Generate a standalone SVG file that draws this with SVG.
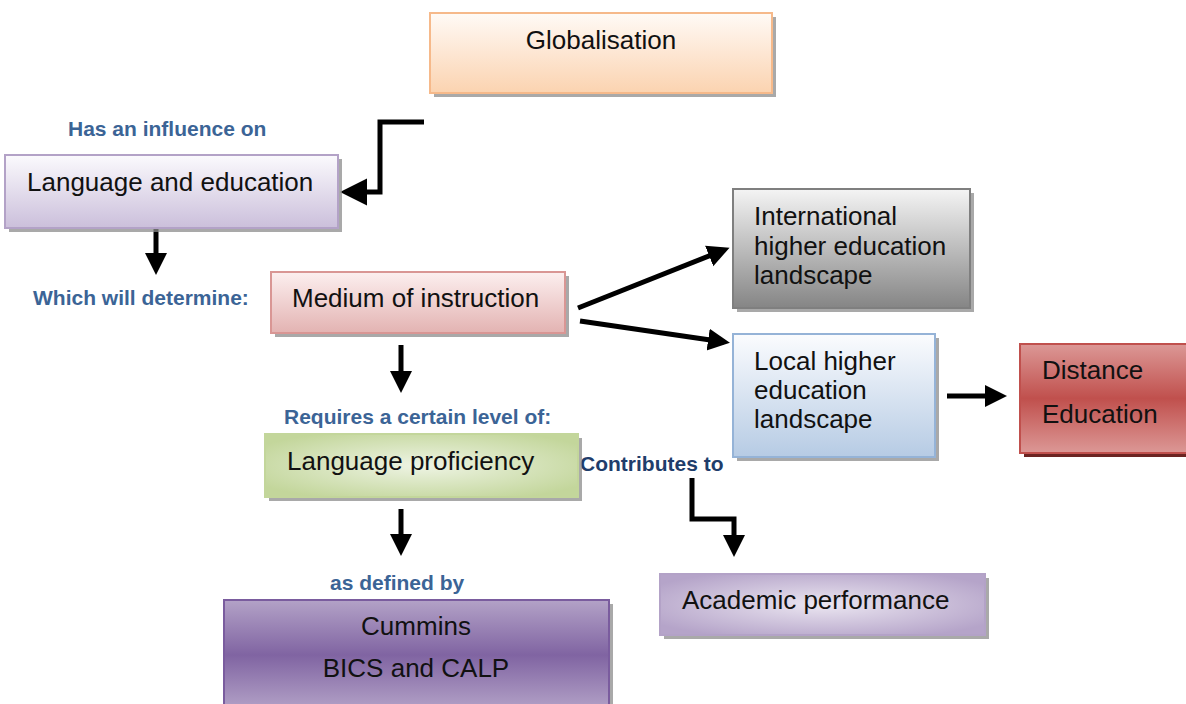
<svg xmlns="http://www.w3.org/2000/svg" width="1186" height="704" viewBox="0 0 1186 704">
<style>
.t{font-family:"Liberation Sans",Arial,sans-serif;font-size:26px;fill:#111}
.lb{font-family:"Liberation Sans",Arial,sans-serif;font-size:21px;font-weight:bold;fill:#3b6496}
.lbd{fill:#1f3d6b}
.sh{fill:#8c8c8c;opacity:.75}
.c{fill:none;stroke:#000;stroke-width:5}
</style>
<defs>
<linearGradient id="gGlob" x1="0" y1="0" x2="0" y2="1"><stop offset="0" stop-color="#fffaf6"/><stop offset="1" stop-color="#fbd3b0"/></linearGradient>
<linearGradient id="gLang" x1="0" y1="0" x2="0" y2="1"><stop offset="0" stop-color="#fbfafd"/><stop offset="1" stop-color="#cbbfdb"/></linearGradient>
<linearGradient id="gMed" x1="0" y1="0" x2="0" y2="1"><stop offset="0" stop-color="#fcefef"/><stop offset="1" stop-color="#e3b3b2"/></linearGradient>
<linearGradient id="gInt" x1="0" y1="0" x2="0" y2="1"><stop offset="0" stop-color="#f4f4f4"/><stop offset="1" stop-color="#858585"/></linearGradient>
<linearGradient id="gLoc" x1="0" y1="0" x2="0" y2="1"><stop offset="0" stop-color="#fbfcfe"/><stop offset="1" stop-color="#b6cbe4"/></linearGradient>
<linearGradient id="gDist" x1="0" y1="0" x2="0" y2="1"><stop offset="0" stop-color="#dc9896"/><stop offset="0.5" stop-color="#c0504d"/><stop offset="1" stop-color="#dc9896"/></linearGradient>
<radialGradient id="gProf" cx="0.5" cy="0.5" r="0.6"><stop offset="0" stop-color="#eef4e4"/><stop offset="1" stop-color="#c3d69b"/></radialGradient>
<linearGradient id="gCum" x1="0" y1="0" x2="0" y2="1"><stop offset="0" stop-color="#b3a2c7"/><stop offset="0.5" stop-color="#8064a2"/><stop offset="1" stop-color="#b3a2c7"/></linearGradient>
<radialGradient id="gAcad" cx="0.5" cy="0.5" r="0.6"><stop offset="0" stop-color="#ebe6f1"/><stop offset="1" stop-color="#b5a4c9"/></radialGradient>
<marker id="ah" markerUnits="userSpaceOnUse" markerWidth="24" markerHeight="24" refX="16" refY="11" orient="auto"><path d="M0,0 L22,11 L0,22 z" fill="#000"/></marker>
<marker id="ahL" markerUnits="userSpaceOnUse" markerWidth="30" markerHeight="30" refX="21" refY="13.5" orient="auto"><path d="M0,0 L27,13.5 L0,27 z" fill="#000"/></marker>
</defs>
<rect width="1186" height="704" fill="#fff"/>

<g id="connectors">
<path class="c" d="M424,122 H380 V192 H346" marker-end="url(#ahL)"/>
<path class="c" d="M156,228 V269" marker-end="url(#ah)"/>
<path class="c" d="M401,345 V387" marker-end="url(#ah)"/>
<path class="c" d="M578,308 L724,250" marker-end="url(#ah)"/>
<path class="c" d="M580,321 L724,342" marker-end="url(#ah)"/>
<path class="c" d="M947,396 H1001" marker-end="url(#ah)"/>
<path class="c" d="M401,509 V550" marker-end="url(#ah)"/>
<path class="c" d="M692,478 V519 H734 V551" marker-end="url(#ah)"/>
</g>

<g id="labels">
<text class="lb" x="68" y="136">Has an influence on</text>
<text class="lb" x="33" y="305">Which will determine:</text>
<text class="lb" x="284" y="424">Requires a certain level of:</text>
<text class="lb lbd" x="580" y="471">Contributes to</text>
<text class="lb" x="330" y="590">as defined by</text>
</g>

<g id="globalisation">
<rect class="sh" x="434" y="17" width="342" height="80"/>
<rect x="430" y="13" width="342" height="80" fill="url(#gGlob)" stroke="#f6b98a" stroke-width="2"/>
<text class="t" x="601" y="49" text-anchor="middle">Globalisation</text>
</g>

<g id="language-education">
<rect class="sh" x="9" y="159" width="333" height="73"/>
<rect x="5" y="155" width="333" height="73" fill="url(#gLang)" stroke="#b3a2c7" stroke-width="2"/>
<text class="t" x="27" y="191">Language and education</text>
</g>

<g id="medium">
<rect class="sh" x="275" y="276" width="294" height="61"/>
<rect x="271" y="272" width="294" height="61" fill="url(#gMed)" stroke="#d99694" stroke-width="2"/>
<text class="t" x="292" y="307">Medium of instruction</text>
</g>

<g id="international">
<rect class="sh" x="737" y="193" width="237" height="119"/>
<rect x="733" y="189" width="237" height="119" fill="url(#gInt)" stroke="#7f7f7f" stroke-width="2"/>
<text class="t" x="754" y="225">International</text>
<text class="t" x="754" y="255">higher education</text>
<text class="t" x="754" y="284">landscape</text>
</g>

<g id="local">
<rect class="sh" x="737" y="338" width="202" height="123"/>
<rect x="733" y="334" width="202" height="123" fill="url(#gLoc)" stroke="#95b3d7" stroke-width="2"/>
<text class="t" x="754" y="370">Local higher</text>
<text class="t" x="754" y="399">education</text>
<text class="t" x="754" y="428">landscape</text>
</g>

<g id="distance">
<rect x="1024" y="348" width="180" height="109" fill="#6b2422"/>
<rect x="1020" y="344" width="180" height="109" fill="url(#gDist)" stroke="#c0504d" stroke-width="2"/>
<text class="t" x="1042" y="379">Distance</text>
<text class="t" x="1042" y="423">Education</text>
</g>

<g id="proficiency">
<rect class="sh" x="269" y="438" width="313" height="63"/>
<rect x="265" y="434" width="313" height="63" fill="url(#gProf)" stroke="#c3d69b" stroke-width="2"/>
<text class="t" x="287" y="470">Language proficiency</text>
</g>

<g id="cummins">
<rect class="sh" x="228" y="604" width="385" height="110"/>
<rect x="224" y="600" width="385" height="110" fill="url(#gCum)" stroke="#7a5c9e" stroke-width="2"/>
<text class="t" x="416" y="635" text-anchor="middle">Cummins</text>
<text class="t" x="416" y="677" text-anchor="middle">BICS and CALP</text>
</g>

<g id="academic">
<rect class="sh" x="664" y="578" width="325" height="61"/>
<rect x="660" y="574" width="325" height="61" fill="url(#gAcad)" stroke="#b3a2c7" stroke-width="2"/>
<text class="t" x="682" y="609">Academic performance</text>
</g>
</svg>
